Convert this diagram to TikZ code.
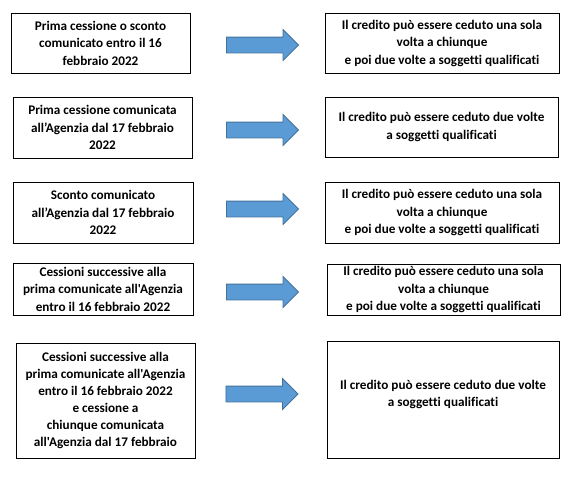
\documentclass[tikz,border=0pt]{standalone}
\usepackage{fontspec}
\newfontfamily\calibri{Carlito}[Ligatures=CommonOff]
\usetikzlibrary{shapes.arrows}
\definecolor{arrowfill}{HTML}{5B9BD5}
\definecolor{arrowedge}{HTML}{41719C}
\begin{document}
\begin{tikzpicture}[x=1pt,y=-1pt,
  box/.style={draw=black,line width=0.9pt,align=center,inner sep=0pt,
    font=\calibri\bfseries\fontsize{13.2}{17.5}\selectfont},
  blockarrow/.style={single arrow,draw=arrowedge,fill=arrowfill,line width=0.8pt,
    minimum height=72pt,single arrow head extend=7.5pt,
    inner xsep=0pt,inner ysep=7.5pt,anchor=center}]
\useasboundingbox (0,0) rectangle (580,477);
% left boxes
\node[box,minimum width=179pt,minimum height=60pt] (l1) at (100.5,43)
  {Prima cessione o sconto\\comunicato entro il 16\\febbraio 2022};
\node[box,minimum width=179pt,minimum height=61pt] (l2) at (102.5,127.5)
  {Prima cessione comunicata\\all’Agenzia dal 17 febbraio\\2022};
\node[box,minimum width=180pt,minimum height=61pt] (l3) at (103,212.5)
  {Sconto comunicato\\all’Agenzia dal 17 febbraio\\2022};
\node[box,minimum width=180pt,minimum height=52pt] (l4) at (103,289)
  {Cessioni successive alla\\prima comunicate all'Agenzia\\entro il 16 febbraio 2022};
\node[box,minimum width=179pt,minimum height=115pt,font=\calibri\bfseries\fontsize{13.2}{17}\selectfont] (l5) at (105.5,400.5)
  {Cessioni successive alla\\prima comunicate all'Agenzia\\entro il 16 febbraio 2022\\e cessione a\\chiunque comunicata\\all'Agenzia dal 17 febbraio};
% right boxes
\node[box,minimum width=234pt,minimum height=60pt] (r1) at (442,43)
  {Il credito può essere ceduto una sola\\volta a chiunque\\e poi due volte a soggetti qualificati};
\node[box,minimum width=233pt,minimum height=60pt] (r2) at (441.5,127)
  {Il credito può essere ceduto due volte\\a soggetti qualificati};
\node[box,minimum width=234pt,minimum height=61pt] (r3) at (442,212.5)
  {Il credito può essere ceduto una sola\\volta a chiunque\\e poi due volte a soggetti qualificati};
\node[box,minimum width=233pt,minimum height=51pt] (r4) at (443.5,289.5)
  {Il credito può essere ceduto una sola\\volta a chiunque\\e poi due volte a soggetti qualificati};
\node[box,minimum width=232pt,minimum height=117pt,text depth=12pt] (r5) at (443,399.5)
  {Il credito può essere ceduto due volte\\a soggetti qualificati};
% arrows
\node[blockarrow] (a1) at (258.5,45) {};
\node[blockarrow] (a2) at (258.5,130) {};
\node[blockarrow] (a3) at (258.5,209) {};
\node[blockarrow] (a4) at (258.5,292) {};
\node[blockarrow] (a5) at (258,394) {};
\end{tikzpicture}
\end{document}
